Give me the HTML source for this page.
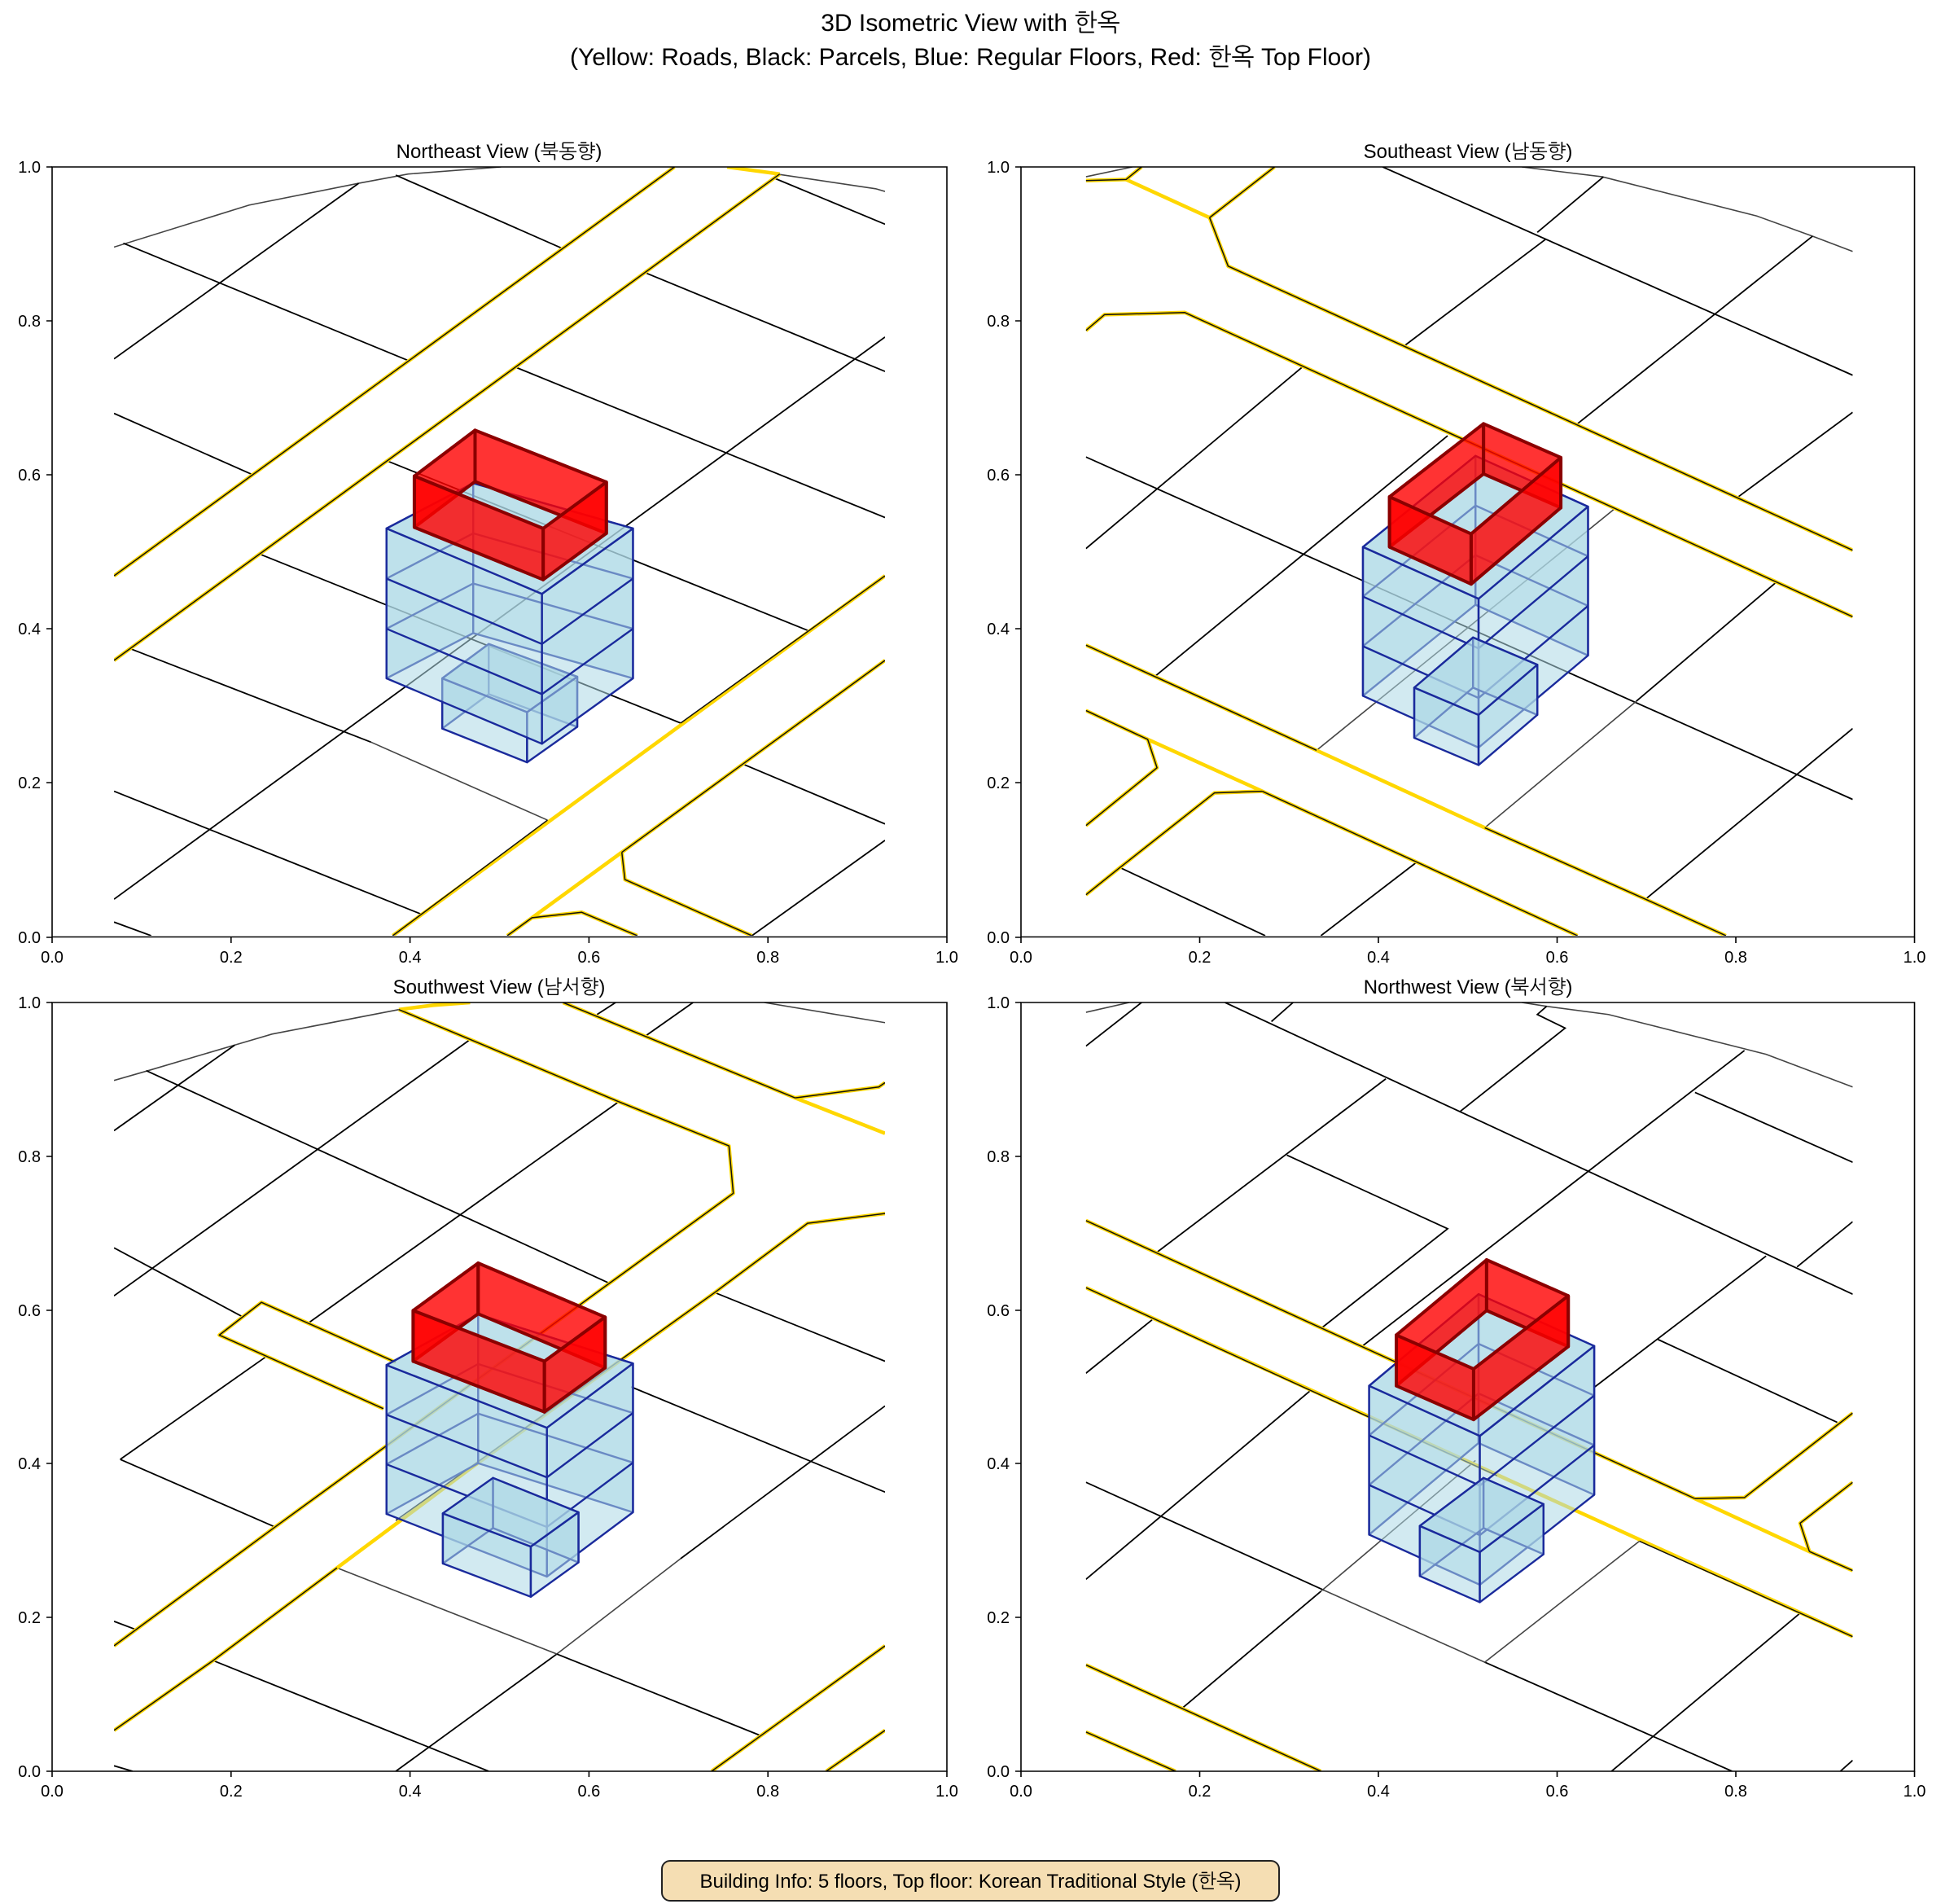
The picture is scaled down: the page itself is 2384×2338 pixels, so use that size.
<!DOCTYPE html>
<html><head><meta charset="utf-8"><style>
html,body{margin:0;padding:0;background:#fff}
svg{display:block}
svg *{vector-effect:non-scaling-stroke}
.k{stroke:#000;stroke-width:1.8;fill:none}
.g{stroke:#444;stroke-width:1.6;fill:none}
.ry{stroke:#FFD700;stroke-width:4.5;fill:none;stroke-linejoin:round}
.rk{stroke:#111;stroke-width:1.5;fill:none;stroke-linejoin:round}
.bf{fill:rgba(173,216,230,0.55);stroke:#1a2a9c;stroke-width:2.4;stroke-linejoin:round}
.bl{fill:none;stroke:#1a2a9c;stroke-width:2.4}
.rf{fill:rgba(255,0,0,0.8);stroke:#8b0000;stroke-width:4;stroke-linejoin:round}
text{font-family:"Liberation Sans","NanumGothic","Noto Sans CJK KR",sans-serif;fill:#000}
.tl{font-size:20px}
.tt{font-size:24px}
.ax{fill:none;stroke:#000;stroke-width:1.6}
</style></head><body>
<svg width="2384" height="2338" viewBox="0 0 2384 2338" xmlns="http://www.w3.org/2000/svg">
<defs>
<clipPath id="c1"><rect x="185" y="85" width="1245" height="1410"/></clipPath>
<clipPath id="c2"><rect x="185" y="85" width="1240" height="1410"/></clipPath>
<clipPath id="c3"><rect x="185" y="90" width="1245" height="1410"/></clipPath>
<clipPath id="c4"><rect x="185" y="90" width="1240" height="1410"/></clipPath>
</defs>
<rect width="2384" height="2338" fill="#fff"/>
<text x="1192" y="38" font-size="30" text-anchor="middle">3D Isometric View with 한옥</text>
<text x="1192" y="80" font-size="30" text-anchor="middle">(Yellow: Roads, Black: Parcels, Blue: Regular Floors, Red: 한옥 Top Floor)</text>

<!-- PANEL 1 -->
<g transform="translate(64,205) scale(0.7606,0.6695) translate(-85,-85)">
<g clip-path="url(#c1)">
<polyline class="g" points="185,232 403,155 580,115 660,98 810,85"/>
<polyline class="g" points="1255,98 1415,125 1430,130"/>
<line class="k" x1="640" y1="100" x2="910" y2="235"/>
<line class="k" x1="200" y1="225" x2="660" y2="440"/>
<line class="k" x1="1250" y1="105" x2="1430" y2="190"/>
<line class="k" x1="1045" y1="280" x2="1430" y2="460"/>
<line class="k" x1="835" y1="453" x2="1430" y2="728"/>
<line class="k" x1="185" y1="537" x2="410" y2="650"/>
<line class="k" x1="628" y1="625" x2="1305" y2="935"/>
<polyline class="k" points="420,795 1100,1105"/>
<line class="k" x1="1200" y1="1180" x2="1430" y2="1290"/>
<line class="k" x1="210" y1="968" x2="600" y2="1140"/>
<line class="g" x1="600" y1="1140" x2="885" y2="1283"/>
<line class="k" x1="185" y1="1230" x2="680" y2="1455"/>
<line class="k" x1="185" y1="1470" x2="245" y2="1495"/>
<line class="k" x1="185" y1="437" x2="580" y2="115"/>
<line class="k" x1="185" y1="1428" x2="1430" y2="397"/>
<line class="k" x1="1215" y1="1495" x2="1430" y2="1320"/>
<line class="ry" x1="1175" y1="85" x2="1260" y2="98"/>
<g class="ry"><line x1="185" y1="835" x2="1090" y2="85"/><line x1="185" y1="990" x2="1260" y2="98"/><line x1="635" y1="1495" x2="1430" y2="835"/><polyline points="820,1495 860,1462 940,1452 1030,1495"/><line x1="860" y1="1462" x2="1430" y2="990"/><polyline points="1005,1342 1010,1392 1215,1495"/></g>
<g class="rk"><line x1="185" y1="835" x2="1090" y2="85"/><line x1="185" y1="990" x2="1260" y2="98"/><line x1="635" y1="1495" x2="885" y2="1283"/><line x1="1100" y1="1105" x2="1430" y2="835"/><polyline points="820,1495 860,1462 940,1452 1030,1495"/><line x1="1005" y1="1342" x2="1430" y2="990"/><polyline points="1005,1342 1010,1392 1215,1495"/></g>
<!-- annex -->
<polygon class="bf" points="715,1023 790,960 790,1052 715,1115"/>
<polygon class="bf" points="790,960 933,1020 933,1112 790,1052"/>
<polygon class="bf" points="715,1023 852,1085 852,1177 715,1115"/>
<polygon class="bf" points="852,1085 933,1020 933,1112 852,1177"/>
<polygon class="bf" points="715,1023 790,960 933,1020 852,1085"/>
<!-- box -->
<polygon class="bf" points="625,748 765,665 765,940 625,1023"/>
<polygon class="bf" points="765,665 1023,748 1023,1023 765,940"/>
<polyline class="bl" points="625,840 765,757 1023,840"/><polyline class="bl" points="625,932 765,849 1023,932"/>
<polygon class="bf" points="625,748 876,868 876,1143 625,1023"/>
<polygon class="bf" points="876,868 1023,748 1023,1023 876,1143"/>
<polygon class="bf" points="625,748 765,665 1023,748 876,868"/>
<polyline class="bl" points="625,840 876,960 1023,840"/><polyline class="bl" points="625,932 876,1052 1023,932"/>
<!-- red -->
<polygon class="rf" points="670,652 768,568 768,662 670,746"/>
<polygon class="rf" points="768,568 980,663 980,757 768,662"/>
<polygon class="rf" points="670,652 878,748 878,842 670,746"/>
<polygon class="rf" points="878,748 980,663 980,757 878,842"/>
</g></g>

<!-- PANEL 2 -->
<g transform="translate(1254,205) scale(0.7595,0.6695) translate(-80,-85)">
<g clip-path="url(#c2)">
<polyline class="g" points="185,103 260,85"/>
<polyline class="g" points="890,85 1020,103 1270,175 1360,212 1425,240"/>
<line class="k" x1="665" y1="85" x2="1425" y2="467"/>
<line class="k" x1="185" y1="617" x2="1425" y2="1245"/>
<line class="k" x1="240" y1="1370" x2="475" y2="1495"/>
<line class="k" x1="915" y1="205" x2="1022" y2="103"/>
<line class="k" x1="700" y1="413" x2="928" y2="218"/>
<line class="k" x1="185" y1="785" x2="535" y2="452"/>
<line class="k" x1="298" y1="1018" x2="770" y2="578"/>
<line class="g" x1="558" y1="1155" x2="1040" y2="712"/>
<line class="g" x1="830" y1="1297" x2="1075" y2="1065"/>
<line class="k" x1="1075" y1="1065" x2="1300" y2="848"/>
<line class="k" x1="1090" y1="1428" x2="1425" y2="1115"/>
<line class="k" x1="565" y1="1495" x2="720" y2="1360"/>
<line class="k" x1="1240" y1="690" x2="1425" y2="535"/>
<line class="k" x1="980" y1="556" x2="1360" y2="212"/>
<g class="ry"><polyline points="185,110 250,108 275,85"/><polyline points="250,108 385,178 490,85"/><polyline points="385,178 415,267 1425,788"/><polyline points="185,385 215,356 345,352 1425,910"/><polyline points="185,962 558,1155 830,1297 1090,1428 1220,1495"/><polyline points="185,1082 285,1135 300,1187 185,1293"/><polyline points="285,1135 470,1230 720,1360 980,1495"/><polyline points="470,1230 393,1233 240,1370 185,1420"/></g>
<g class="rk"><polyline points="185,110 250,108 275,85"/><polyline points="385,178 490,85"/><polyline points="385,178 415,267 1425,788"/><polyline points="185,385 215,356 345,352 1425,910"/><polyline points="185,962 558,1155"/><polyline points="830,1297 1090,1428 1220,1495"/><polyline points="185,1082 285,1135 300,1187 185,1293"/><polyline points="470,1230 720,1360 980,1495"/><polyline points="470,1230 393,1233 240,1370 185,1420"/></g>
<polygon class="bf" points="633,782 815,615 815,888 633,1055"/>
<polygon class="bf" points="815,615 997,708 997,981 815,888"/>
<polyline class="bl" points="633,873 815,706 997,799"/><polyline class="bl" points="633,964 815,797 997,890"/>
<polygon class="bf" points="633,782 820,877 820,1150 633,1055"/>
<polygon class="bf" points="820,877 997,708 997,981 820,1150"/>
<polygon class="bf" points="633,782 815,615 997,708 820,877"/>
<polyline class="bl" points="633,873 820,968 997,799"/><polyline class="bl" points="633,964 820,1059 997,890"/>
<polygon class="bf" points="716,1040 811,948 811,1040 716,1132"/>
<polygon class="bf" points="811,948 915,998 915,1090 811,1040"/>
<polygon class="bf" points="716,1040 820,1090 820,1182 716,1132"/>
<polygon class="bf" points="820,1090 915,998 915,1090 820,1182"/>
<polygon class="bf" points="716,1040 811,948 915,998 820,1090"/>
<polygon class="rf" points="676,690 828,556 828,648 676,782"/>
<polygon class="rf" points="828,556 953,618 953,710 828,648"/>
<polygon class="rf" points="676,690 808,758 808,850 676,782"/>
<polygon class="rf" points="808,758 953,618 953,710 808,850"/>
</g></g>

<!-- PANEL 3 -->
<g transform="translate(64,1231) scale(0.7606,0.6695) translate(-85,-90)">
<g clip-path="url(#c3)">
<polyline class="g" points="185,233 240,215 380,168 440,148 645,103"/>
<polyline class="g" points="1235,90 1430,127"/>
<line class="k" x1="185" y1="325" x2="380" y2="168"/>
<line class="k" x1="237" y1="215" x2="985" y2="605"/>
<line class="k" x1="185" y1="540" x2="395" y2="668"/>
<line class="k" x1="185" y1="628" x2="760" y2="158"/>
<line class="k" x1="500" y1="677" x2="1000" y2="272"/>
<line class="k" x1="1045" y1="150" x2="1120" y2="90"/>
<line class="k" x1="965" y1="112" x2="995" y2="90"/>
<line class="k" x1="195" y1="928" x2="430" y2="740"/>
<line class="k" x1="640" y1="1500" x2="900" y2="1285"/>
<line class="g" x1="900" y1="1285" x2="1100" y2="1110"/>
<line class="k" x1="1100" y1="1110" x2="1430" y2="830"/>
<line class="k" x1="1155" y1="622" x2="1430" y2="748"/>
<line class="k" x1="195" y1="928" x2="445" y2="1052"/>
<line class="k" x1="185" y1="1225" x2="220" y2="1240"/>
<line class="k" x1="345" y1="1297" x2="790" y2="1500"/>
<line class="g" x1="545" y1="1127" x2="900" y2="1285"/>
<line class="k" x1="900" y1="1285" x2="1230" y2="1435"/>
<line class="k" x1="1020" y1="795" x2="1430" y2="988"/>
<line class="k" x1="185" y1="1490" x2="215" y2="1500"/>
<g class="ry"><polyline points="645,103 700,95 760,90"/><polyline points="645,103 1000,272 1178,353 1185,440 985,605 445,1052 185,1270"/><polyline points="910,90 1285,265 1430,330"/><polyline points="1285,265 1420,245 1430,237"/><polyline points="1430,477 1305,495 1155,622 760,945 545,1127 345,1297 185,1425"/><polyline points="640,750 423,640 355,700 620,835"/><line x1="1150" y1="1500" x2="1430" y2="1270"/><line x1="1335" y1="1500" x2="1430" y2="1425"/></g>
<g class="rk"><polyline points="645,103 1000,272 1178,353 1185,440 985,605 445,1052 185,1270"/><polyline points="910,90 1285,265"/><polyline points="1285,265 1420,245 1430,237"/><polyline points="1430,477 1305,495 1155,622 640,1040"/><polyline points="545,1127 345,1297 185,1425"/><polyline points="640,750 423,640 355,700 620,835"/><line x1="1150" y1="1500" x2="1430" y2="1270"/><line x1="1335" y1="1500" x2="1430" y2="1425"/></g>
<polygon class="bf" points="625,755 773,662 773,935 625,1028"/>
<polygon class="bf" points="773,662 1023,752 1023,1025 773,935"/>
<polyline class="bl" points="625,846 773,753 1023,843"/><polyline class="bl" points="625,937 773,844 1023,934"/>
<polygon class="bf" points="625,755 884,870 884,1143 625,1028"/>
<polygon class="bf" points="884,870 1023,752 1023,1025 884,1143"/>
<polygon class="bf" points="625,755 773,662 1023,752 884,870"/>
<polyline class="bl" points="625,846 884,961 1023,843"/><polyline class="bl" points="625,937 884,1052 1023,934"/>
<polygon class="bf" points="716,1027 797,962 797,1054 716,1119"/>
<polygon class="bf" points="797,962 935,1025 935,1117 797,1054"/>
<polygon class="bf" points="716,1027 858,1088 858,1180 716,1119"/>
<polygon class="bf" points="858,1088 935,1025 935,1117 858,1180"/>
<polygon class="bf" points="716,1027 797,962 935,1025 858,1088"/>
<polygon class="rf" points="668,655 773,568 773,661 668,748"/>
<polygon class="rf" points="773,568 978,667 978,760 773,661"/>
<polygon class="rf" points="668,655 880,748 880,841 668,748"/>
<polygon class="rf" points="880,748 978,667 978,760 880,841"/>
</g></g>

<!-- PANEL 4 -->
<g transform="translate(1254,1231) scale(0.7595,0.6695) translate(-80,-90)">
<g clip-path="url(#c4)">
<polyline class="g" points="185,108 255,90"/>
<polyline class="g" points="890,90 930,97 1030,112 1250,175 1285,185 1425,245"/>
<line class="k" x1="185" y1="170" x2="275" y2="90"/>
<line class="k" x1="410" y1="90" x2="1425" y2="625"/>
<line class="k" x1="485" y1="125" x2="520" y2="90"/>
<polyline class="k" points="930,97 915,112 960,137 790,290"/>
<line class="k" x1="300" y1="548" x2="670" y2="230"/>
<line class="k" x1="185" y1="770" x2="292" y2="672"/>
<polyline class="k" points="510,370 770,505 565,688"/>
<line class="k" x1="630" y1="722" x2="1250" y2="178"/>
<line class="k" x1="1170" y1="255" x2="1425" y2="383"/>
<line class="k" x1="1335" y1="575" x2="1425" y2="492"/>
<line class="k" x1="1110" y1="708" x2="1400" y2="860"/>
<line class="k" x1="1008" y1="795" x2="1285" y2="555"/>
<line class="k" x1="185" y1="1148" x2="550" y2="800"/>
<line class="k" x1="185" y1="970" x2="570" y2="1168"/>
<line class="g" x1="570" y1="1168" x2="830" y2="1300"/>
<line class="k" x1="830" y1="1300" x2="1230" y2="1500"/>
<line class="k" x1="340" y1="1385" x2="565" y2="1170"/>
<line class="g" x1="565" y1="1170" x2="815" y2="930"/>
<line class="g" x1="830" y1="1300" x2="1080" y2="1078"/>
<line class="k" x1="1035" y1="1500" x2="1340" y2="1210"/>
<line class="k" x1="1405" y1="1500" x2="1425" y2="1480"/>
<g class="ry"><polyline points="185,490 1170,1000 1355,1097 1425,1132"/><polyline points="1170,1000 1250,998 1425,843"/><polyline points="1355,1097 1340,1045 1425,970"/><line x1="185" y1="613" x2="1425" y2="1253"/><line x1="185" y1="1305" x2="565" y2="1500"/><line x1="185" y1="1428" x2="330" y2="1500"/></g>
<g class="rk"><polyline points="185,490 1170,1000"/><polyline points="1355,1097 1425,1132"/><polyline points="1170,1000 1250,998 1425,843"/><polyline points="1355,1097 1340,1045 1425,970"/><line x1="185" y1="613" x2="850" y2="958"/><line x1="1080" y1="1078" x2="1425" y2="1253"/><line x1="185" y1="1305" x2="565" y2="1500"/><line x1="185" y1="1428" x2="330" y2="1500"/></g>
<polygon class="bf" points="643,793 820,625 820,898 643,1066"/>
<polygon class="bf" points="820,625 1007,720 1007,993 820,898"/>
<polyline class="bl" points="643,884 820,716 1007,811"/><polyline class="bl" points="643,975 820,807 1007,902"/>
<polygon class="bf" points="643,793 822,885 822,1158 643,1066"/>
<polygon class="bf" points="822,885 1007,720 1007,993 822,1158"/>
<polygon class="bf" points="643,793 820,625 1007,720 822,885"/>
<polyline class="bl" points="643,884 822,976 1007,811"/><polyline class="bl" points="643,975 822,1067 1007,902"/>
<polygon class="bf" points="725,1050 828,962 828,1054 725,1142"/>
<polygon class="bf" points="828,962 925,1010 925,1102 828,1054"/>
<polygon class="bf" points="725,1050 822,1098 822,1190 725,1142"/>
<polygon class="bf" points="822,1098 925,1010 925,1102 822,1190"/>
<polygon class="bf" points="725,1050 828,962 925,1010 822,1098"/>
<polygon class="rf" points="687,700 833,562 833,655 687,793"/>
<polygon class="rf" points="833,562 965,628 965,721 833,655"/>
<polygon class="rf" points="687,700 812,762 812,855 687,793"/>
<polygon class="rf" points="812,762 965,628 965,721 812,855"/>
</g></g>

<!-- AXES FRAMES, TICKS, LABELS -->
<g>
<rect class="ax" x="64" y="205" width="1099" height="945.5"/>
<rect class="ax" x="1254" y="205" width="1097.5" height="945.5"/>
<rect class="ax" x="64" y="1231" width="1099" height="944"/>
<rect class="ax" x="1254" y="1231" width="1097.5" height="944"/>
<g stroke="#000" stroke-width="1.6">
<path d="M64 1151v7M283.8 1151v7M503.6 1151v7M723.4 1151v7M943.2 1151v7M1163 1151v7M1254 1151v7M1473.5 1151v7M1693 1151v7M1912.5 1151v7M2132 1151v7M2351.5 1151v7M64 2175v7M283.8 2175v7M503.6 2175v7M723.4 2175v7M943.2 2175v7M1163 2175v7M1254 2175v7M1473.5 2175v7M1693 2175v7M1912.5 2175v7M2132 2175v7M2351.5 2175v7"/>
<path d="M64 205h-7M64 394h-7M64 583h-7M64 772h-7M64 961h-7M64 1151h-7M1254 205h-7M1254 394h-7M1254 583h-7M1254 772h-7M1254 961h-7M1254 1151h-7M64 1231h-7M64 1420h-7M64 1609h-7M64 1797h-7M64 1986h-7M64 2175h-7M1254 1231h-7M1254 1420h-7M1254 1609h-7M1254 1797h-7M1254 1986h-7M1254 2175h-7"/>
</g>
<g class="tl" text-anchor="middle">
<text x="64" y="1182">0.0</text><text x="283.8" y="1182">0.2</text><text x="503.6" y="1182">0.4</text><text x="723.4" y="1182">0.6</text><text x="943.2" y="1182">0.8</text><text x="1163" y="1182">1.0</text>
<text x="1254" y="1182">0.0</text><text x="1473.5" y="1182">0.2</text><text x="1693" y="1182">0.4</text><text x="1912.5" y="1182">0.6</text><text x="2132" y="1182">0.8</text><text x="2351.5" y="1182">1.0</text>
<text x="64" y="2206">0.0</text><text x="283.8" y="2206">0.2</text><text x="503.6" y="2206">0.4</text><text x="723.4" y="2206">0.6</text><text x="943.2" y="2206">0.8</text><text x="1163" y="2206">1.0</text>
<text x="1254" y="2206">0.0</text><text x="1473.5" y="2206">0.2</text><text x="1693" y="2206">0.4</text><text x="1912.5" y="2206">0.6</text><text x="2132" y="2206">0.8</text><text x="2351.5" y="2206">1.0</text>
</g>
<g class="tl" text-anchor="end">
<text x="50" y="212">1.0</text><text x="50" y="401">0.8</text><text x="50" y="590">0.6</text><text x="50" y="779">0.4</text><text x="50" y="968">0.2</text><text x="50" y="1158">0.0</text>
<text x="1240" y="212">1.0</text><text x="1240" y="401">0.8</text><text x="1240" y="590">0.6</text><text x="1240" y="779">0.4</text><text x="1240" y="968">0.2</text><text x="1240" y="1158">0.0</text>
<text x="50" y="1238">1.0</text><text x="50" y="1427">0.8</text><text x="50" y="1616">0.6</text><text x="50" y="1804">0.4</text><text x="50" y="1993">0.2</text><text x="50" y="2182">0.0</text>
<text x="1240" y="1238">1.0</text><text x="1240" y="1427">0.8</text><text x="1240" y="1616">0.6</text><text x="1240" y="1804">0.4</text><text x="1240" y="1993">0.2</text><text x="1240" y="2182">0.0</text>
</g>
<g class="tt" text-anchor="middle">
<text x="613" y="194">Northeast View (북동향)</text>
<text x="1803" y="194">Southeast View (남동향)</text>
<text x="613" y="1220">Southwest View (남서향)</text>
<text x="1803" y="1220">Northwest View (북서향)</text>
</g>
</g>

<rect x="813" y="2285" width="758" height="49" rx="10" ry="10" fill="#f5deb3" stroke="#222" stroke-width="2"/>
<text x="1192" y="2318" font-size="24" text-anchor="middle">Building Info: 5 floors, Top floor: Korean Traditional Style (한옥)</text>
</svg>
</body></html>
